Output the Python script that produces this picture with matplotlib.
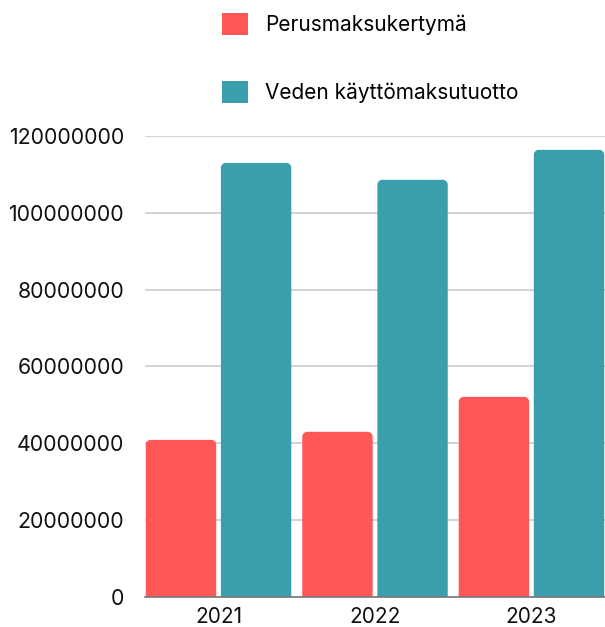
import matplotlib
matplotlib.use("Agg")
import matplotlib.pyplot as plt
from matplotlib.path import Path
from matplotlib.patches import PathPatch, Patch

years = ["2021", "2022", "2023"]
perusmaksu = [40900000, 43000000, 52100000]
kayttomaksu = [113000000, 108600000, 116400000]
series_names = ["Perusmaksukertymä", "Veden käyttömaksutuotto"]
colors = ["#FF5757", "#3A9EAC"]
yticks = [0, 20000000, 40000000, 60000000, 80000000, 100000000, 120000000]

plt.rcParams['font.family'] = ['Inter', 'DejaVu Sans']

fig = plt.figure(figsize=(6.05, 6.27), dpi=100)
ax = fig.add_axes([145/605, 30/627, 460/605, 461/627])

x = list(range(len(years)))
w = 0.45
off = 0.24
b1 = ax.bar([i - off for i in x], perusmaksu, width=w, color=colors[0])
b2 = ax.bar([i + off for i in x], kayttomaksu, width=w, color=colors[1])

ax.set_xlim(-0.47, 2.47)
ax.set_ylim(0, 120000000)

# replace bars with rounded-top versions
rx = 5 / 156.5
ry = 5 * 120000000 / 461
k = 0.5523
for bars in (b1, b2):
    for r in bars:
        x0, y0 = r.get_x(), r.get_y()
        bw, bh = r.get_width(), r.get_height()
        x1, y1 = x0 + bw, y0 + bh
        verts = [
            (x0, y0), (x0, y1 - ry),
            (x0, y1 - ry + k * ry), (x0 + rx - k * rx, y1), (x0 + rx, y1),
            (x1 - rx, y1),
            (x1 - rx + k * rx, y1), (x1, y1 - ry + k * ry), (x1, y1 - ry),
            (x1, y0), (x0, y0)]
        codes = [Path.MOVETO, Path.LINETO,
                 Path.CURVE4, Path.CURVE4, Path.CURVE4,
                 Path.LINETO,
                 Path.CURVE4, Path.CURVE4, Path.CURVE4,
                 Path.LINETO, Path.CLOSEPOLY]
        ax.add_patch(PathPatch(Path(verts, codes), facecolor=r.get_facecolor(),
                               edgecolor='none', zorder=3))
        r.set_visible(False)

ax.set_yticks(yticks)
ax.set_yticklabels([str(v) for v in yticks])
ax.set_xticks(x)
ax.set_xticklabels(years)
ax.tick_params(axis='y', length=0, pad=15, labelsize=15.3, labelcolor='#111111')
ax.tick_params(axis='x', length=0, pad=7, labelsize=15, labelcolor='#111111')
ax.grid(axis='y', color='#cccccc', linewidth=1.2, zorder=0)
ax.set_axisbelow(True)
for s in ['top', 'right', 'left']:
    ax.spines[s].set_visible(False)
ax.spines['bottom'].set_color('#777777')
ax.spines['bottom'].set_linewidth(1.2)
ax.spines['bottom'].set_zorder(4)

handles = [Patch(facecolor=c, edgecolor='none') for c in colors]
fig.legend(handles, series_names, loc='upper left',
           bbox_to_anchor=(222/605, 1 - 13/627), frameon=False,
           fontsize=15, handlelength=1.25, handleheight=1.25,
           handletextpad=0.8, labelspacing=2.2, borderpad=0, borderaxespad=0)

fig.savefig("out.png", dpi=100)
